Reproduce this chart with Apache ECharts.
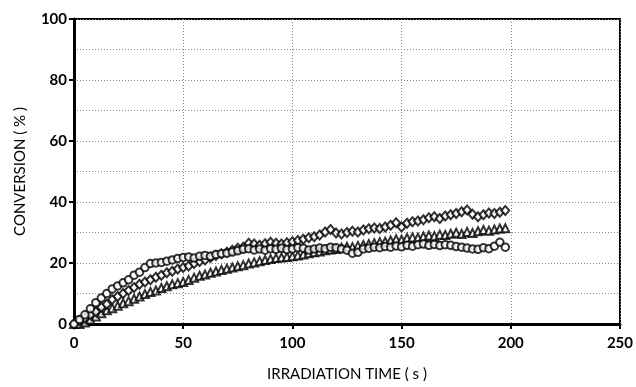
<!DOCTYPE html>
<html>
<head>
<meta charset="utf-8">
<script src="https://cdn.jsdelivr.net/npm/echarts@6/dist/echarts.min.js"></script>
<style>
html,body{margin:0;padding:0;background:#fff;}
#c{width:636px;height:387px;}
</style>
</head>
<body>
<div id="c"></div>
<script>
var times = [0,2.5,5,7.5,10,12.5,15,17.5,20,22.5,25,27.5,30,32.5,35,37.5,40,42.5,45,47.5,
50,52.5,55,57.5,60,62.5,65,67.5,70,72.5,75,77.5,80,82.5,85,87.5,90,92.5,95,97.5,
100,102.5,105,107.5,110,112.5,115,117.5,120,122.5,125,127.5,130,132.5,135,137.5,140,142.5,145,147.5,
150,152.5,155,157.5,160,162.5,165,167.5,170,172.5,175,177.5,180,182.5,185,187.5,190,192.5,195,197.5];

var circles = [0,1.5,3,5,7,8.5,10,11.5,12.5,13.5,14.5,16,17,18.5,19.8,20,20.2,20.6,21,21.5,
21.8,22,21.6,22.2,22.5,22.2,22.8,23,23.2,23.6,24,24.5,24.7,24.3,24.6,24.2,24.7,24.5,24.8,24.4,
24.6,25,24.8,24.3,24.6,24.9,24.7,25.2,25,24.6,24.2,23.2,23.5,24.6,24.8,25.2,25,25.4,25.2,25.6,
25.3,25.8,25.5,26,26.2,25.8,26.1,25.7,26,25.8,25.4,25.2,24.9,24.6,24.5,25,24.7,25.5,26.8,25.2];

var diamonds = [0,1,2,3,4,5.5,6.5,8,9,10,11,12,13,13.8,14.5,15.3,16,16.8,17.3,18,
18.5,19,19.8,20.5,21,21.8,22.5,23,23.5,24.2,24.8,25.2,26.5,26.2,25.8,26.3,26.8,26.5,26.2,26.6,
27,27.4,27.8,28.3,28.6,29.2,30.2,31,29.8,29.5,30,30.4,30.2,30.8,31.2,31.5,31.3,31.8,32.4,33.2,
31.8,33,33.5,33.8,34.2,34.8,35.2,34.6,35.4,35.8,36.2,36.8,37.4,36,35.2,35.8,36.4,36.2,36.6,37.2];

var triangles = [0,0,0.5,1.5,2.5,3.5,4.5,5.2,6,6.8,7.5,8.3,9,9.8,10.5,11,11.8,12.4,13,13.4,
13.8,14.4,15.2,15.8,16.2,16.8,17.2,17.7,18.1,18.5,18.9,19.3,19.8,20.2,20.6,21,21.3,21.6,21.8,22,
22.2,22.5,22.8,23.2,23.5,23.8,24.2,24.4,24.6,25,25.3,25.2,25.6,25.9,26.2,26.5,26.8,27,27.4,27.8,
27.6,28.2,28.4,28.3,28.7,29,28.8,29.3,29.2,29.6,29.9,29.5,30.2,29.8,30.4,30.8,30.6,31,31.3,31.4];

var xTicks = [0,50,100,150,200,250];
var yTicks = [0,20,40,60,80,100];

function pairs(vals){ return times.map(function(t,i){ return [t, vals[i]]; }); }

var chart = echarts.init(document.getElementById('c'), null, {renderer:'canvas'});
var mk = {color:'#fff', borderColor:'#000', borderWidth:2};
chart.setOption({
  animation:false,
  backgroundColor:'#fff',
  grid:{left:74, right:14, top:19, bottom:59, show:true, borderColor:'#000', borderWidth:2, backgroundColor:'transparent'},
  xAxis:{
    type:'value', min:xTicks[0], max:xTicks[xTicks.length-1], interval:50,
    name:'IRRADIATION TIME ( s )', nameLocation:'middle', nameGap:43,
    nameTextStyle:{fontFamily:'Lato', fontSize:15, color:'#000'},
    axisLine:{show:true, onZero:false, lineStyle:{color:'#000', width:3}},
    axisTick:{show:true, length:5, lineStyle:{color:'#000', width:2}},
    axisLabel:{fontFamily:'Lato', fontWeight:'bold', fontSize:15, color:'#000', margin:12},
    splitLine:{show:true, lineStyle:{color:'#888', width:1, type:[1,2]}}
  },
  yAxis:{
    type:'value', min:yTicks[0], max:yTicks[yTicks.length-1], interval:20,
    name:'CONVERSION ( % )', nameLocation:'middle', nameGap:46, nameRotate:90,
    nameTextStyle:{fontFamily:'Lato', fontSize:15, color:'#000'},
    axisLine:{show:true, onZero:false, lineStyle:{color:'#000', width:3}},
    axisTick:{show:true, length:5, lineStyle:{color:'#000', width:2}},
    axisLabel:{fontFamily:'Lato', fontWeight:'bold', fontSize:15, color:'#000', margin:7},
    splitLine:{show:true, lineStyle:{color:'#888', width:1, type:[1,2]}},
    minorTick:{show:false, splitNumber:2},
    minorSplitLine:{show:true, lineStyle:{color:'#888', width:1, type:[1,2]}}
  },
  series:[
    {type:'scatter', name:'triangles', data:pairs(triangles), symbol:'triangle', symbolSize:[8,8], itemStyle:mk},
    {type:'scatter', name:'diamonds', data:pairs(diamonds), symbol:'diamond', symbolSize:[8,9], itemStyle:mk},
    {type:'scatter', name:'circles', data:pairs(circles), symbol:'circle', symbolSize:7.5, itemStyle:mk}
  ]
});
</script>
</body>
</html>
